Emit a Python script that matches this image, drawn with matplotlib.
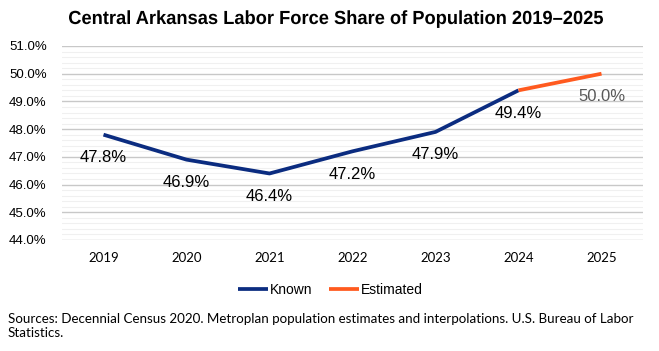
import matplotlib
matplotlib.use("Agg")
import matplotlib.pyplot as plt
from matplotlib.ticker import MultipleLocator, FuncFormatter
from matplotlib.textpath import TextPath
from matplotlib.font_manager import FontProperties
from matplotlib.patches import PathPatch
from matplotlib.transforms import Affine2D, IdentityTransform

years = [2019, 2020, 2021, 2022, 2023, 2024, 2025]
known = [47.8, 46.9, 46.4, 47.2, 47.9, 49.4]
estimated = [49.4, 50.0]
labels = ["47.8%", "46.9%", "46.4%", "47.2%", "47.9%", "49.4%", "50.0%"]
title = "Central Arkansas Labor Force Share of Population 2019\u20132025"

navy = "#0b2c80"
orange = "#ff5a1f"

W, H = 659, 351
fig = plt.figure(figsize=(W / 100, H / 100), dpi=100)
ax = fig.add_axes([62/W, 1 - 240/H, (643 - 62)/W, (240 - 46)/H])

xs = list(range(len(years)))
ax.plot(xs[:6], known, color=navy, lw=2.7, solid_capstyle="butt", label="Known", zorder=3)
ax.plot(xs[5:], estimated, color=orange, lw=2.7, solid_capstyle="butt", label="Estimated", zorder=3)

vals = known + estimated[1:]
for i, (v, t) in enumerate(zip(vals, labels)):
    col = "#595959" if i == 6 else "black"
    ax.annotate(t, (i, v), xytext=(0, -16.5), textcoords="offset points", ha="center", va="center",
                fontsize=12, color=col, family="Liberation Sans")

ax.set_xlim(-0.5, 6.5)
ax.set_ylim(44, 51)
ax.set_xticks(xs)
ax.set_xticklabels([str(y) for y in years], family="Lato", fontsize=9.5)
ax.yaxis.set_major_locator(MultipleLocator(1))
ax.yaxis.set_minor_locator(MultipleLocator(0.2))
ax.yaxis.set_major_formatter(FuncFormatter(lambda v, p: f"{v:.1f}%"))
for lab in ax.get_yticklabels():
    lab.set_family("Liberation Sans")
    lab.set_fontsize(9.5)
ax.grid(axis="y", which="major", color="#c8c8c8", lw=1)
ax.grid(axis="y", which="minor", color="#f0f0f0", lw=0.8)
ax.tick_params(length=0, which="both")
ax.tick_params(axis="x", pad=9)
ax.tick_params(axis="y", pad=11)
for s in ax.spines.values():
    s.set_visible(False)

# condensed bold title: squeeze a text path horizontally
tp = TextPath((0, 0), title, size=19, prop=FontProperties(family="Liberation Sans", weight="bold"))
ext = tp.get_extents()
x_left, x_right = 69, 603
sx = (x_right - x_left) / ext.width
y_base = H - 24
tr = Affine2D().translate(-ext.x0, 0).scale(sx, 1).translate(x_left, y_base)
fig.add_artist(PathPatch(tr.transform_path(tp), facecolor="black", edgecolor="none",
                         transform=IdentityTransform()))

fig.legend(loc="center", bbox_to_anchor=(330/W, 1 - 290/H), ncol=2, frameon=False,
           prop={"family": "Liberation Sans", "size": 10}, handlelength=2.2, handletextpad=0.1,
           columnspacing=1.2)

fig.text(8/W, 1 - 326/H,
         "Sources: Decennial Census 2020. Metroplan population estimates and interpolations. U.S. Bureau of Labor\nStatistics.",
         ha="left", va="center", fontsize=9.6, family="Lato", linespacing=1.2)

fig.savefig("out.png", dpi=100)
